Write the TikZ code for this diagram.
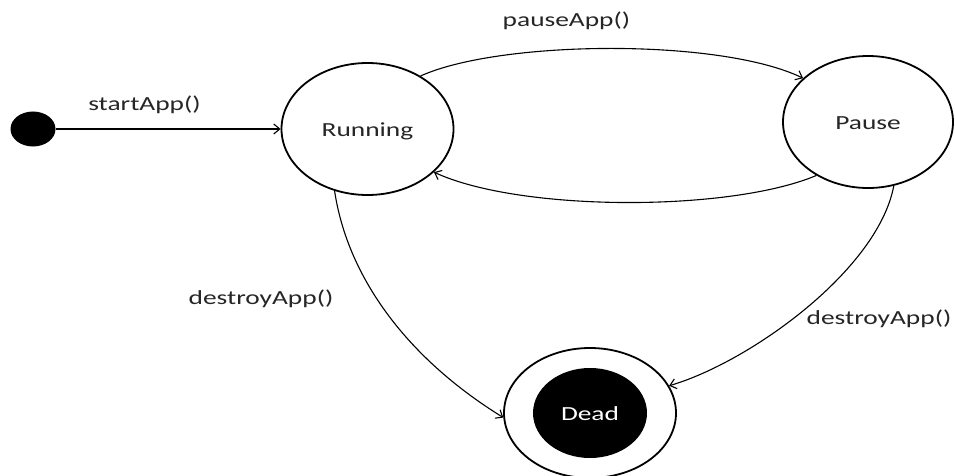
\documentclass[tikz,border=0pt]{standalone}
\usepackage{fontspec}
\usepackage{graphicx}
\setmainfont{Carlito}
\usetikzlibrary{shapes.geometric,arrows.meta}

% wide lettering used throughout the chart
\newcommand{\widetxt}[1]{\scalebox{1.37}[1]{#1}}

\begin{document}
\begin{tikzpicture}[x=1pt,y=1pt,
  every node/.style={font=\fontsize{20}{24}\selectfont, text=black!85},
  statebox/.style={ellipse, draw, line width=1.8pt, inner sep=0pt,
    minimum width=172pt, minimum height=132pt, text height=15pt, text depth=0pt},
  startdot/.style={ellipse, fill=black, inner sep=0pt,
    minimum width=45pt, minimum height=35pt},
  finalring/.style={ellipse, draw, line width=1.8pt, inner sep=0pt,
    minimum width=172pt, minimum height=130pt},
  finalcore/.style={ellipse, fill=black, inner sep=0pt, text=white,
    minimum width=114pt, minimum height=90pt, text height=15pt, text depth=0pt},
  trans/.style={line width=1.1pt,
    -{Straight Barb[length=6pt,width=10pt,line width=1.1pt]}},
  lbl/.style={anchor=base, inner sep=0pt}
]
\useasboundingbox (0,0) rectangle (955,-476);
\fill[white] (0,0) rectangle (955,-476);

% states
\node[startdot] (init) at (33,-129) {};
\node[statebox] (run) at (367.5,-129) {\widetxt{Running}};
\node[statebox, minimum width=170pt] (pause) at (868,-122) {\widetxt{Pause}};
\node[finalring] (dead) at (590,-413) {};
\node[finalcore] (deadcore) at (590,-413) {\widetxt{Dead}};

% transitions
\draw[trans] (init) -- (run);
\draw[trans] (run.45) .. controls (500,-40) and (720,-38) .. (pause.146);
\draw[trans] (pause.-134) .. controls (730,-212) and (520,-212) .. (run.-33);
\draw[trans] (run.-118) .. controls (348,-280) and (410,-360) .. (dead.183);
\draw[trans] (pause.-68) .. controls (878,-270) and (750,-362) .. (dead.19);

% transition labels
\node[lbl] (lstart) at (144.5,-111) {\widetxt{startApp()}};
\node[lbl] (lpause) at (566.5,-27) {\widetxt{pauseApp()}};
\node[lbl] (ldestroyrun) at (261,-304) {\widetxt{destroyApp()}};
\node[lbl] (ldestroypause) at (879,-324) {\widetxt{destroyApp()}};
\end{tikzpicture}
\end{document}
